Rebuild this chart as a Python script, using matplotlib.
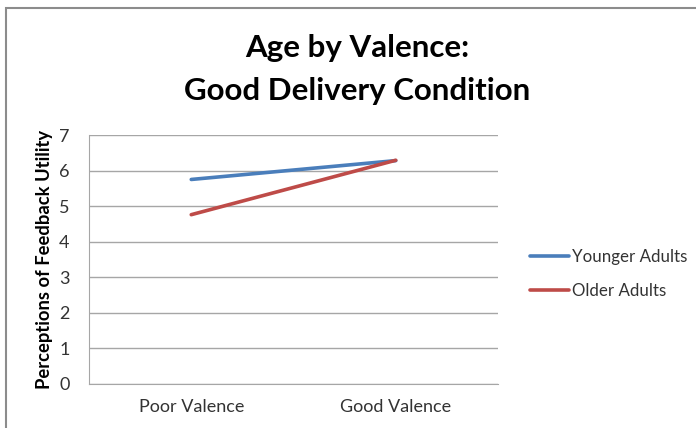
import matplotlib.pyplot as plt
from matplotlib.patches import Rectangle

categories = ["Poor Valence", "Good Valence"]
younger = [5.75, 6.28]
older = [4.76, 6.29]
series_names = ["Younger Adults", "Older Adults"]
y_ticks = [0, 1, 2, 3, 4, 5, 6, 7]

plt.rcParams['font.family'] = ['Lato', 'DejaVu Sans']

W, H = 696, 428
fig = plt.figure(figsize=(W / 100, H / 100), dpi=100)

# outer chart frame (runs off right/bottom edge)
fig.patches.append(Rectangle((6 / W, -0.05), 1.0, 1 - 8 / H + 0.05,
                             transform=fig.transFigure, fill=False,
                             edgecolor='#8c8c8c', linewidth=1.5))

ax = fig.add_axes([89 / W, 1 - 384 / H, (498 - 89) / W, (384 - 135) / H])

x = [0.5, 1.5]
ax.plot(x, younger, color='#4a7ebb', linewidth=2.6, label=series_names[0],
        solid_capstyle='round')
ax.plot(x, older, color='#be4b48', linewidth=2.6, label=series_names[1],
        solid_capstyle='round')

ax.set_xlim(0, 2)
ax.set_ylim(0, 7)
ax.set_yticks(y_ticks)
ax.set_xticks(x)
ax.set_xticklabels(categories)
ax.tick_params(axis='both', length=0, labelsize=13, colors='#404040', labelcolor='#333333')
ax.tick_params(axis='y', pad=14)
ax.tick_params(axis='x', pad=11)
ax.grid(axis='y', color='#a6a6a6', linewidth=1)
ax.set_axisbelow(True)
for s in ['top', 'right']:
    ax.spines[s].set_visible(False)
ax.spines['left'].set_color('#a6a6a6')
ax.spines['bottom'].set_color('#a6a6a6')

ax.set_ylabel("Perceptions of Feedback Utility", fontsize=13.2, fontweight='bold')
ax.yaxis.set_label_coords(-(89 - 45) / (498 - 89), 0.5)
ax.yaxis.label.set_va('center')

fig.text(357 / W, 1 - 48 / H, "Age by Valence:", ha='center', va='center',
         fontsize=22.5, fontweight='bold')
fig.text(357 / W, 1 - 91 / H, "Good Delivery Condition", ha='center', va='center',
         fontsize=22.5, fontweight='bold')

leg = fig.legend(loc='center left', bbox_to_anchor=(515 / W, 1 - 274 / H),
                 frameon=False, fontsize=12.2, handlelength=2.3,
                 handletextpad=0.15, labelspacing=1.1)
for t in leg.get_texts():
    t.set_color('#333333')

fig.savefig("out.png", dpi=100)
